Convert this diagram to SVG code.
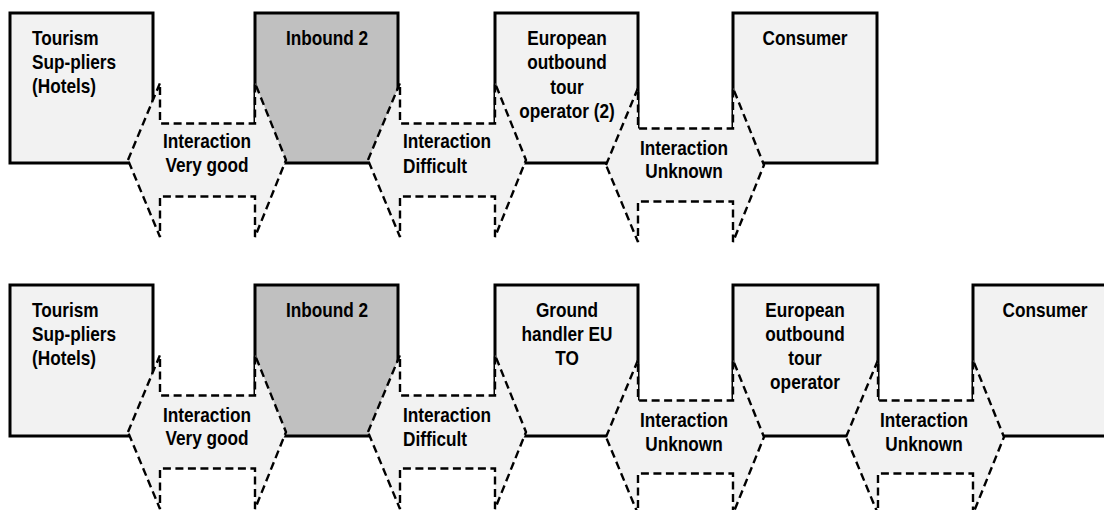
<svg xmlns="http://www.w3.org/2000/svg" width="1104" height="510" viewBox="0 0 1104 510">
  <style>
    .box { fill: #f2f2f2; stroke: #000; stroke-width: 3; }
    .box.dark { fill: #c0c0c0; }
    .link { fill: #f2f2f2; stroke: #000; stroke-width: 2.4; stroke-dasharray: 8 4.5; stroke-linejoin: miter; }
    text { font-family: "Liberation Sans", Arial, sans-serif; font-weight: bold; font-size: 21px; fill: #000; }
    .mid { text-anchor: middle; }
  </style>
  <defs>
    <!-- double-headed interaction band, centred on (0,0), drawn between head bases -->
    <path id="band" d="M-79,0 L-47,-77 L-47,-36.5 L48,-36.5 L48,-77 L79,0 L48,77 L48,36.5 L-47,36.5 L-47,77 Z"/>
  </defs>

  <!-- upper chain: boxes -->
  <g id="t-suppliers">
    <rect class="box" x="10" y="13" width="143" height="150"/>
    <text transform="translate(32,45) scale(0.82,1)"><tspan x="0" y="0">Tourism</tspan><tspan x="0" y="24">Sup-pliers</tspan><tspan x="0" y="48">(Hotels)</tspan></text>
  </g>
  <g id="t-inbound">
    <rect class="box dark" x="255" y="13" width="143" height="150"/>
    <text class="mid" transform="translate(327,45) scale(0.82,1)"><tspan x="0" y="0">Inbound 2</tspan></text>
  </g>
  <g id="t-european">
    <rect class="box" x="495" y="13" width="143" height="150"/>
    <text class="mid" transform="translate(567,45) scale(0.82,1)"><tspan x="0" y="0">European</tspan><tspan x="0" y="24.4">outbound</tspan><tspan x="0" y="48.8">tour</tspan><tspan x="0" y="73.2">operator (2)</tspan></text>
  </g>
  <g id="t-consumer">
    <rect class="box" x="733" y="13" width="144" height="150"/>
    <text class="mid" transform="translate(805,45) scale(0.82,1)"><tspan x="0" y="0">Consumer</tspan></text>
  </g>

  <!-- lower chain: boxes -->
  <g id="b-suppliers">
    <rect class="box" x="10" y="285" width="143" height="151"/>
    <text transform="translate(32,317) scale(0.82,1)"><tspan x="0" y="0">Tourism</tspan><tspan x="0" y="24">Sup-pliers</tspan><tspan x="0" y="48">(Hotels)</tspan></text>
  </g>
  <g id="b-inbound">
    <rect class="box dark" x="255" y="285" width="143" height="151"/>
    <text class="mid" transform="translate(327,317) scale(0.82,1)"><tspan x="0" y="0">Inbound 2</tspan></text>
  </g>
  <g id="b-ground">
    <rect class="box" x="495" y="285" width="143" height="151"/>
    <text class="mid" transform="translate(567,317) scale(0.82,1)"><tspan x="0" y="0">Ground</tspan><tspan x="0" y="24">handler EU</tspan><tspan x="0" y="48">TO</tspan></text>
  </g>
  <g id="b-european">
    <rect class="box" x="733" y="285" width="145" height="151"/>
    <text class="mid" transform="translate(805,317) scale(0.82,1)"><tspan x="0" y="0">European</tspan><tspan x="0" y="24">outbound</tspan><tspan x="0" y="48">tour</tspan><tspan x="0" y="72">operator</tspan></text>
  </g>
  <g id="b-consumer">
    <rect class="box" x="973" y="285" width="145" height="151"/>
    <text class="mid" transform="translate(1045,317) scale(0.82,1)"><tspan x="0" y="0">Consumer</tspan></text>
  </g>

  <!-- interaction bands, drawn over the box edges -->
  <g id="connectors">
    <g id="t-link1">
      <use href="#band" class="link" transform="translate(207,160)"/>
      <text class="mid" transform="translate(207,148) scale(0.82,1)"><tspan x="0" y="0">Interaction</tspan><tspan x="0" y="24">Very good</tspan></text>
    </g>
    <g id="t-link2">
      <use href="#band" class="link" transform="translate(447,160)"/>
      <text transform="translate(403,148) scale(0.82,1)"><tspan x="0" y="0">Interaction</tspan><tspan x="0" y="25">Difficult</tspan></text>
    </g>
    <g id="t-link3">
      <use href="#band" class="link" transform="translate(685,165)"/>
      <text class="mid" transform="translate(684,155) scale(0.82,1)"><tspan x="0" y="0">Interaction</tspan><tspan x="0" y="23.5">Unknown</tspan></text>
    </g>

    <g id="b-link1">
      <use href="#band" class="link" transform="translate(207,432)"/>
      <text class="mid" transform="translate(207,422) scale(0.82,1)"><tspan x="0" y="0">Interaction</tspan><tspan x="0" y="23.5">Very good</tspan></text>
    </g>
    <g id="b-link2">
      <use href="#band" class="link" transform="translate(447,432)"/>
      <text transform="translate(403,422) scale(0.82,1)"><tspan x="0" y="0">Interaction</tspan><tspan x="0" y="24">Difficult</tspan></text>
    </g>
    <g id="b-link3">
      <use href="#band" class="link" transform="translate(685,437)"/>
      <text class="mid" transform="translate(684,427) scale(0.82,1)"><tspan x="0" y="0">Interaction</tspan><tspan x="0" y="24">Unknown</tspan></text>
    </g>
    <g id="b-link4">
      <use href="#band" class="link" transform="translate(925,437)"/>
      <text class="mid" transform="translate(924,427) scale(0.82,1)"><tspan x="0" y="0">Interaction</tspan><tspan x="0" y="24">Unknown</tspan></text>
    </g>
  </g>
</svg>
